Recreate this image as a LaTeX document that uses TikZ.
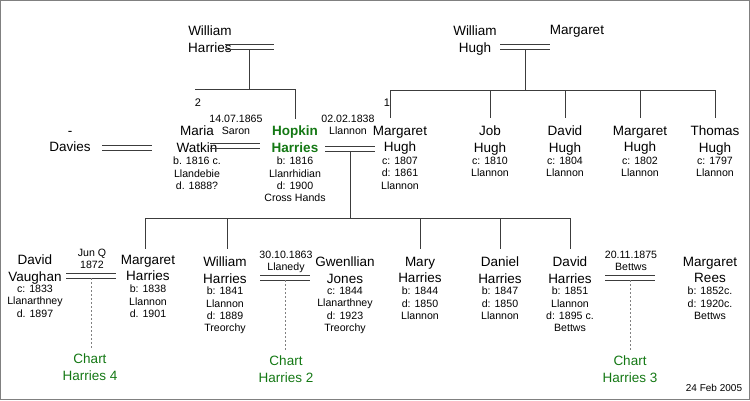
\documentclass[tikz,border=0pt]{standalone}
\usepackage{fontspec}
\setmainfont{Liberation Sans}
\definecolor{gr}{RGB}{20,120,20}
\definecolor{ln}{RGB}{60,60,60}
\begin{document}
\begin{tikzpicture}[x=1pt,y=-1pt,
  nm/.style={anchor=north,align=center,inner sep=0pt,yshift=-3pt,font=\fontsize{13.5}{16.5}\selectfont},
  dt/.style={anchor=north,align=center,inner sep=0pt,yshift=-2pt,font=\fontsize{10.6}{12.3}\selectfont},
  ch/.style={nm,text=gr},
  ln/.style={draw=ln,line width=0.8pt},
  dot/.style={draw=gray,line width=0.8pt,dash pattern=on 2pt off 2pt}]
\draw[draw=gray,line width=1pt] (0.5,0.5) rectangle (749.5,399.5);
% top
\node[nm] (wh) at (210,23) {William\\Harries};
\node[nm] (whu) at (475,23) {William\\Hugh};
\node[nm] (mg) at (577,22) {Margaret};
\draw[ln] (225,44)--(274,44) (225,49)--(274,49);
\draw[ln] (500,44)--(550,44) (500,49)--(550,49);
\coordinate (t1) at (249,49); \coordinate (t1d) at (249,89);
\coordinate (h1l) at (195,89); \coordinate (h1r) at (295,89);
\draw[ln] (t1)--(t1d) (h1l)--(h1r) (h1r)--(295,119);
\coordinate (t2) at (525,49); \coordinate (t2d) at (525,90);
\draw[ln] (t2)--(t2d) (390,90)--(715,90);
\foreach \x in {390,490,565,640,715} \draw[ln] (\x,90)--(\x,118);
% middle row
\node[nm] (dav) at (70,128) {-\\Davies};
\node[font=\fontsize{11}{12}\selectfont,inner sep=0pt] (two) at (198,103) {2};
\node[nm] (mw) at (197,123) {Maria\\Watkin};
\node[dt] (mwd) at (197,155) {b. 1816 c.\\Llandebie\\d. 1888?};
\node[nm,font=\bfseries\fontsize{13.5}{16.5}\selectfont,text=gr] (hh) at (295,123) {Hopkin\\Harries};
\node[dt] (hhd) at (295,155) {b: 1816\\Llanrhidian\\d: 1900\\Cross Hands};
\node[dt] (l1) at (236,113) {14.07.1865\\Saron};
\node[dt] (l2) at (348,113) {02.02.1838\\Llannon};
\node[font=\fontsize{11}{12}\selectfont,inner sep=0pt] (one) at (387,103) {1};
\node[nm] (mh) at (400,123) {Margaret\\Hugh};
\node[dt] (mhd) at (400,155) {c: 1807\\d: 1861\\Llannon};
\node[nm] (jh) at (490,123) {Job\\Hugh};
\node[dt] (jhd) at (490,155) {c: 1810\\Llannon};
\node[nm] (dh) at (565,123) {David\\Hugh};
\node[dt] (dhd) at (565,155) {c: 1804\\Llannon};
\node[nm] (mh2) at (640,123) {Margaret\\Hugh};
\node[dt] (mh2d) at (640,155) {c: 1802\\Llannon};
\node[nm] (th) at (715,123) {Thomas\\Hugh};
\node[dt] (thd) at (715,155) {c: 1797\\Llannon};
\draw[ln] (102,145)--(152,145) (102,150)--(152,150);
\draw[ln] (210,143)--(260,143) (210,148)--(260,148);
\draw[ln] (325,146)--(375,146) (325,151)--(375,151);
\coordinate (c1) at (350,151); \coordinate (c1d) at (350,218);
\draw[ln] (c1)--(c1d) (145,218)--(570,218);
\foreach \x in {145,227,420,500,570} \draw[ln] (\x,218)--(\x,249);
% bottom row
\node[nm] (dv) at (35,252) {David\\Vaughan};
\node[dt] (dvd) at (35,283) {c: 1833\\Llanarthney\\d. 1897};
\node[dt] (l3) at (92,247) {Jun Q\\1872};
\node[nm] (mhr) at (148,252) {Margaret\\Harries};
\node[dt] (mhrd) at (148,283) {b: 1838\\Llannon\\d. 1901};
\node[nm] (wha) at (225,254) {William\\Harries};
\node[dt] (whad) at (225,285) {b: 1841\\Llannon\\d: 1889\\Treorchy};
\node[dt] (l4) at (286,249) {30.10.1863\\Llanedy};
\node[nm] (gj) at (345,254) {Gwenllian\\Jones};
\node[dt] (gjd) at (345,285) {c: 1844\\Llanarthney\\d: 1923\\Treorchy};
\node[nm] (mah) at (420,254) {Mary\\Harries};
\node[dt] (mahd) at (420,285) {b: 1844\\d: 1850\\Llannon};
\node[nm] (dah) at (500,254) {Daniel\\Harries};
\node[dt] (dahd) at (500,285) {b: 1847\\d: 1850\\Llannon};
\node[nm] (dvh) at (570,254) {David\\Harries};
\node[dt] (dvhd) at (570,285) {b: 1851\\Llannon\\d: 1895 c.\\Bettws};
\node[dt] (l5) at (631,249) {20.11.1875\\Bettws};
\node[nm] (mr) at (710,254) {Margaret\\Rees};
\node[dt] (mrd) at (710,285) {b: 1852c.\\d: 1920c.\\Bettws};
\draw[ln] (66,273)--(116,273) (66,278)--(116,278);
\draw[ln] (260,275)--(310,275) (260,280)--(310,280);
\draw[ln] (605,275)--(655,275) (605,280)--(655,280);
\node[ch] (c4) at (90,351) {Chart\\Harries 4};
\node[ch] (c2) at (286,353) {Chart\\Harries 2};
\node[ch] (c3) at (630,353) {Chart\\Harries 3};
\coordinate (d4) at (91,278); \coordinate (d2) at (285,280); \coordinate (d3) at (630,280);
\draw[dot] (d4)--(91,348); \draw[dot] (d2)--(285,350); \draw[dot] (d3)--(630,350);
\node[font=\fontsize{10}{11}\selectfont,inner sep=0pt] (date) at (714,388) {24 Feb 2005};
\end{tikzpicture}
\end{document}
